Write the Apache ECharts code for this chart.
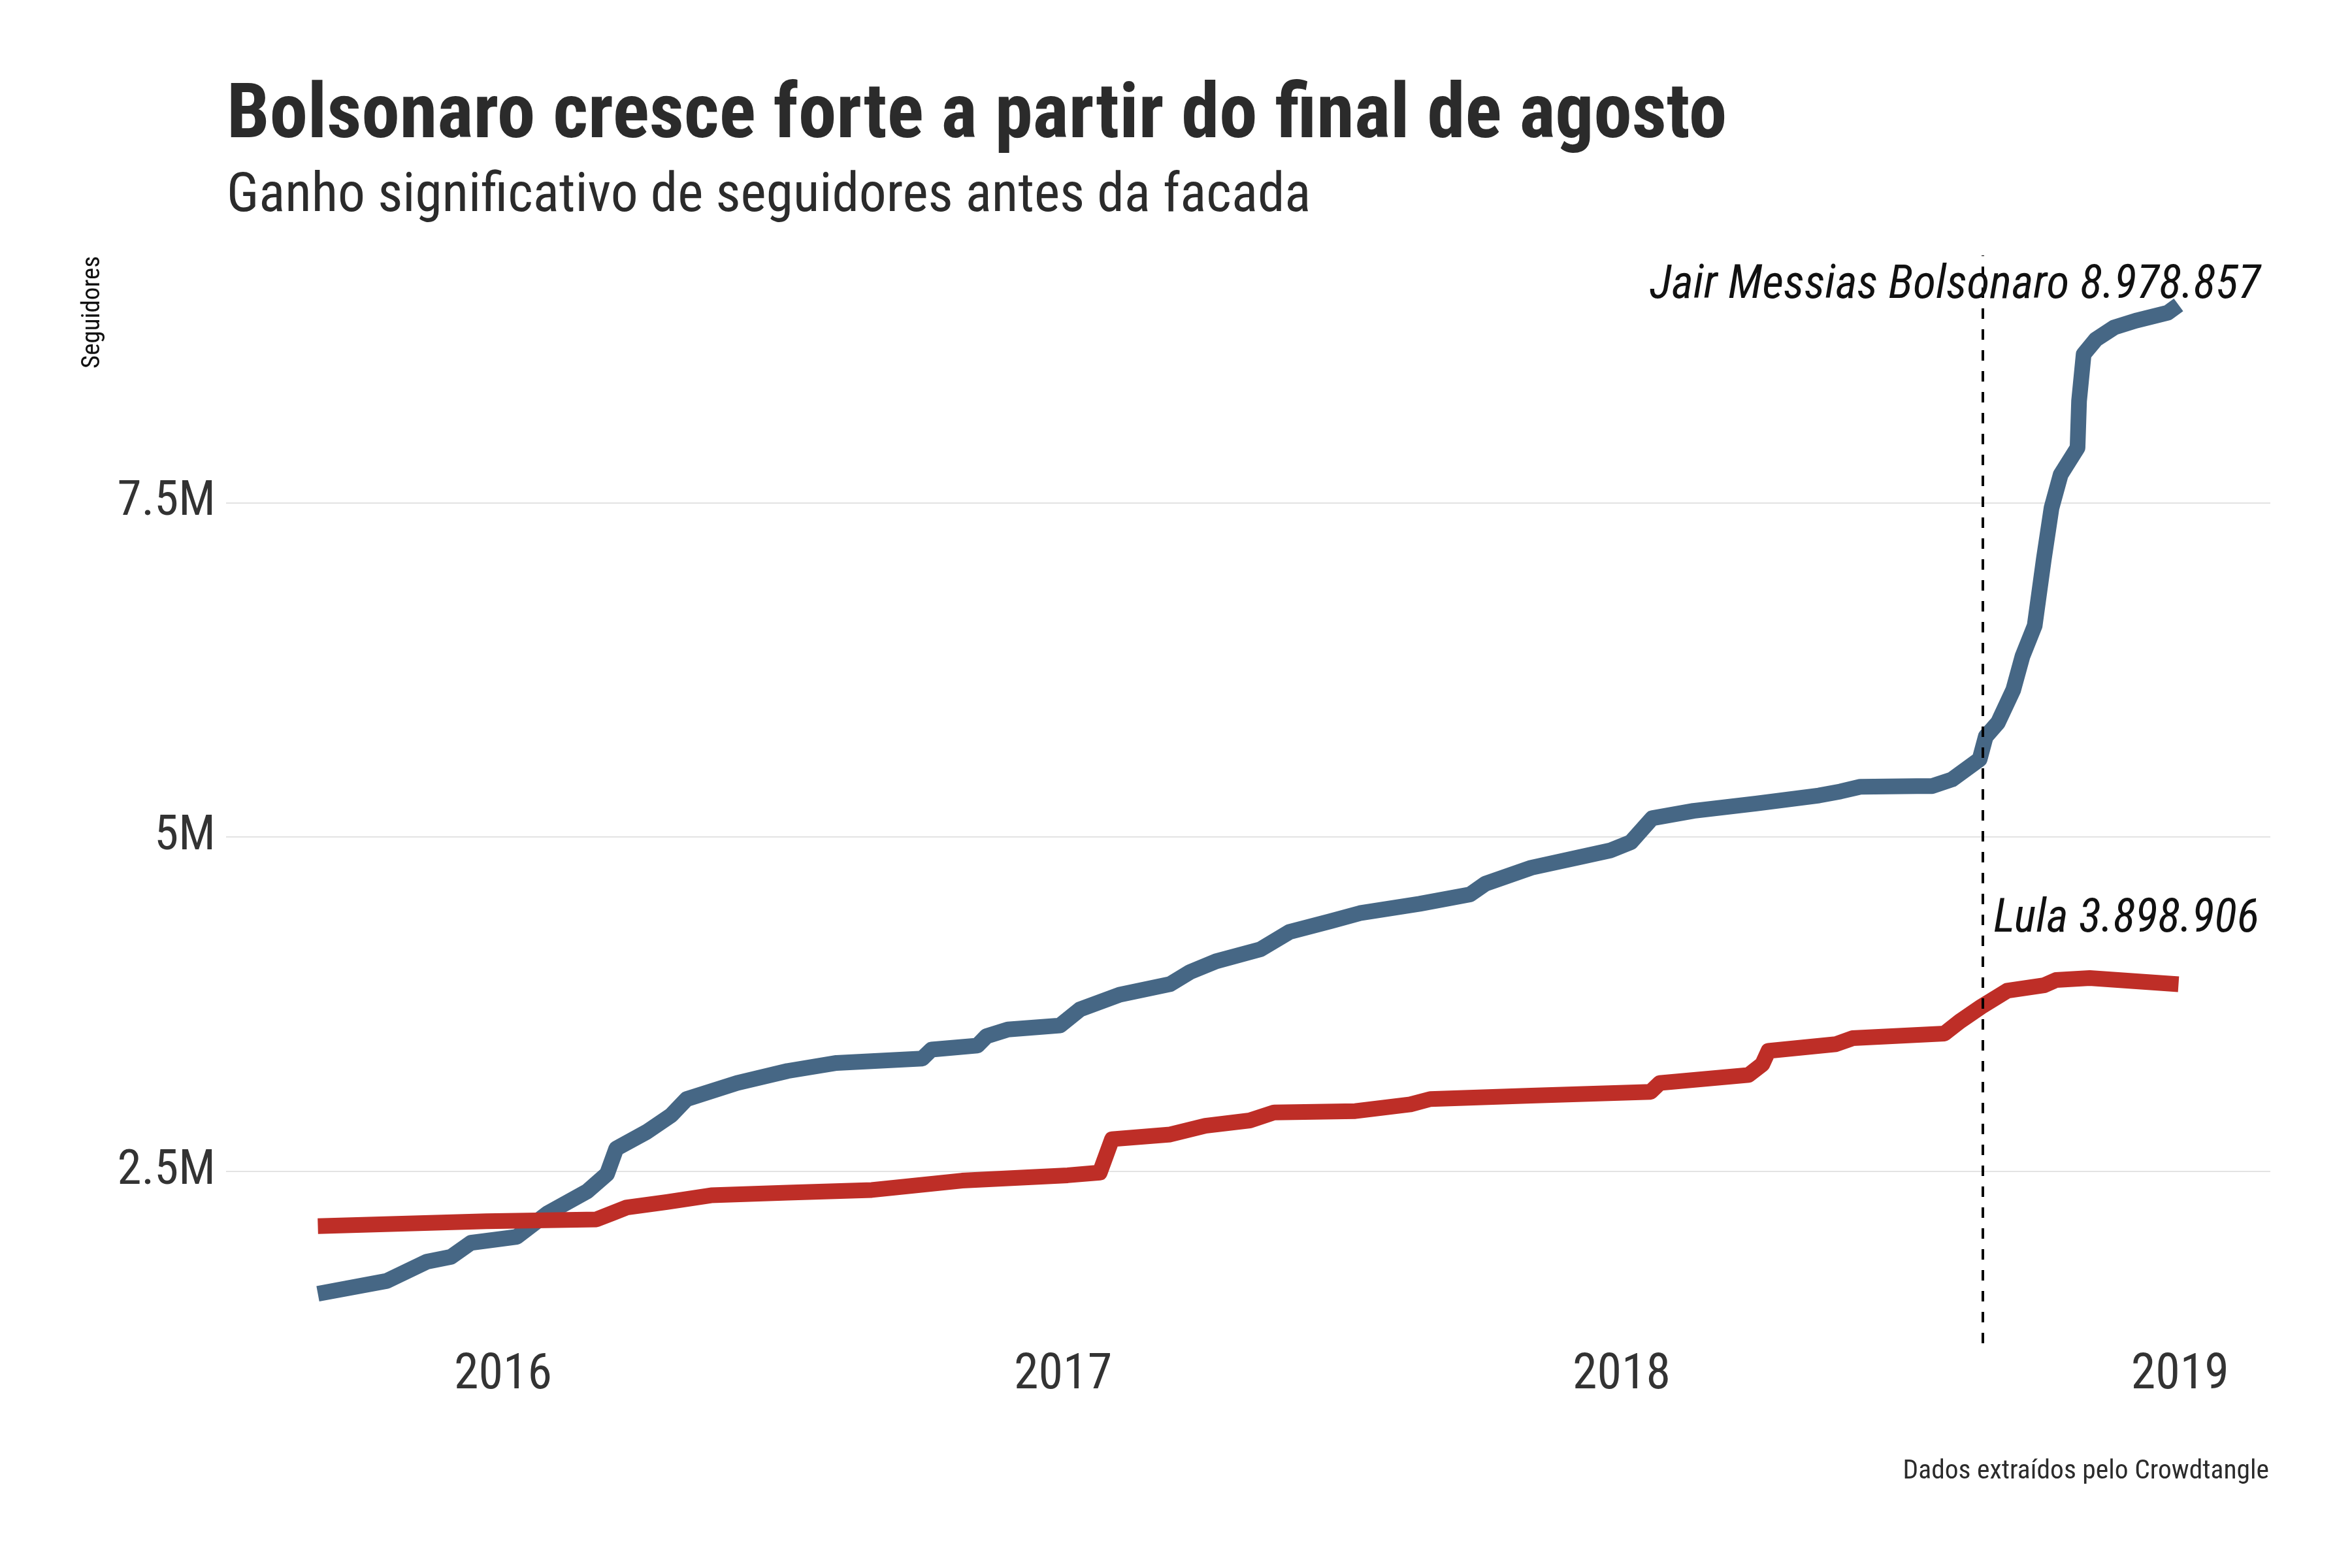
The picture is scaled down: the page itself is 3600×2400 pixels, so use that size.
<!DOCTYPE html>
<html>
<head>
<meta charset="utf-8">
<script src="https://cdn.jsdelivr.net/npm/echarts@6/dist/echarts.min.js"></script>
<style>html,body{margin:0;padding:0;background:#fff}#c{width:3600px;height:2400px}</style>
</head>
<body>
<div id="c"></div>
<script>
// ---- data (followers, millions) ----
const bolsonaroDates = ['2015-09-02','2015-10-17','2015-11-12','2015-11-28','2015-12-11','2016-01-10','2016-01-30','2016-02-25','2016-03-09','2016-03-15','2016-04-04','2016-04-20','2016-04-30','2016-06-02','2016-07-05','2016-08-06','2016-10-01','2016-10-07','2016-11-06','2016-11-12','2016-11-26','2016-12-30','2017-01-12','2017-02-07','2017-03-12','2017-03-25','2017-04-11','2017-05-10','2017-05-29','2017-06-25','2017-07-14','2017-08-22','2017-09-24','2017-10-04','2017-11-03','2017-12-05','2017-12-25','2018-01-07','2018-01-21','2018-02-17','2018-03-30','2018-05-10','2018-05-24','2018-06-06','2018-07-13','2018-07-23','2018-08-05','2018-08-11','2018-08-23','2018-08-27','2018-09-04','2018-09-14','2018-09-20','2018-09-28','2018-10-04','2018-10-09','2018-10-15','2018-10-26','2018-10-27','2018-10-30','2018-11-07','2018-11-19','2018-12-03','2018-12-24','2018-12-31'];
const bolsonaroValues = [1.584,1.68,1.823,1.86,1.965,2.01,2.185,2.35,2.48,2.67,2.795,2.92,3.04,3.16,3.25,3.31,3.343,3.41,3.44,3.51,3.56,3.59,3.71,3.82,3.90,3.99,4.07,4.16,4.29,4.37,4.43,4.50,4.57,4.65,4.77,4.85,4.90,4.96,5.14,5.195,5.25,5.31,5.34,5.375,5.38,5.38,5.43,5.48,5.58,5.75,5.855,6.10,6.35,6.58,7.08,7.46,7.71,7.91,8.26,8.61,8.72,8.81,8.86,8.92,8.978857];
const lulaDates = ['2015-09-02','2015-12-21','2016-03-02','2016-03-12','2016-03-22','2016-04-17','2016-05-16','2016-07-05','2016-08-29','2016-10-27','2017-01-04','2017-01-25','2017-02-02','2017-03-12','2017-04-04','2017-05-03','2017-05-19','2017-07-11','2017-08-16','2017-08-29','2017-11-03','2018-01-20','2018-01-26','2018-03-25','2018-04-03','2018-04-07','2018-05-21','2018-06-01','2018-07-31','2018-08-10','2018-08-24','2018-09-10','2018-10-04','2018-10-12','2018-11-03','2018-12-31'];
const lulaValues = [2.09,2.126,2.14,2.185,2.23,2.27,2.32,2.34,2.36,2.43,2.47,2.49,2.74,2.775,2.84,2.88,2.94,2.95,3.00,3.04,3.065,3.094,3.16,3.22,3.30,3.40,3.45,3.495,3.53,3.62,3.73,3.85,3.89,3.93,3.945,3.898906];
const yTicks = [2.5, 5, 7.5];
const xTickYears = [2016, 2017, 2018, 2019];
const markerDate = '2018-08-25';
const titleText = 'Bolsonaro cresce forte a partir do final de agosto';
const subtitleText = 'Ganho significativo de seguidores antes da facada';
const captionText = 'Dados extraídos pelo Crowdtangle';
const yAxisTitle = 'Seguidores';
const bolsonaroLabel = 'Jair Messias Bolsonaro 8.978.857';
const lulaLabel = 'Lula 3.898.906';

const FONT = "'Roboto Condensed', 'Liberation Sans Narrow', 'Arial Narrow', 'DejaVu Sans Condensed', Roboto, sans-serif";
function ts(s){ const p = s.split('-').map(Number); return Date.UTC(p[0], p[1]-1, p[2]); }
const xTickValues = xTickYears.map(y => Date.UTC(y,0,1));

const chart = echarts.init(document.getElementById('c'), null, {renderer:'canvas'});
chart.setOption({
  animation: false,
  backgroundColor: '#ffffff',
  grid: {left: 346, right: 125, top: 391, bottom: 344, containLabel: false},
  xAxis: {
    type: 'value',
    min: ts('2015-07-04'), max: ts('2019-03-01'),
    axisLine: {show:false}, axisTick: {show:false, customValues: xTickValues},
    splitLine: {show:false},
    axisLabel: {
      customValues: xTickValues,
      formatter: v => String(new Date(v).getUTCFullYear()),
      fontFamily: FONT, fontSize: 76, color: '#333333', margin: 12
    }
  },
  yAxis: {
    type: 'value', min: 1.214, max: 9.348,
    axisLine: {show:false}, axisTick: {show:false, customValues: yTicks},
    splitLine: {show:true, lineStyle: {color:'#dadada', width:1.5}},
    axisLabel: {
      customValues: yTicks,
      formatter: v => v + 'M',
      fontFamily: FONT, fontSize: 75, color: '#333333', margin: 16
    }
  },
  series: [
    {
      name: 'Bolsonaro', type: 'line', showSymbol: false, z: 2,
      data: bolsonaroDates.map((d,i) => [ts(d), bolsonaroValues[i]]),
      lineStyle: {color:'#466785', width:24, cap:'butt', join:'round'}
    },
    {
      name: 'Lula', type: 'line', showSymbol: false, z: 3,
      data: lulaDates.map((d,i) => [ts(d), lulaValues[i]]),
      lineStyle: {color:'#be2e27', width:24, cap:'butt', join:'round'}
    },
    {
      name: 'marker', type: 'line', data: [], z: 5,
      markLine: {
        silent: true, symbol: ['none','none'], label: {show:false},
        lineStyle: {color:'#000000', width:4, type:[16,16]},
        data: [{xAxis: ts(markerDate)}]
      }
    }
  ],
  graphic: [
    {type:'text', x:347, y:181, style:{text:titleText, fontFamily:FONT, fontSize:117, fontWeight:'bold', fill:'#2b2b2b', align:'left', verticalAlign:'middle'}},
    {type:'text', x:347, y:302, style:{text:subtitleText, fontFamily:FONT, fontSize:83.5, fill:'#2b2b2b', align:'left', verticalAlign:'middle'}},
    {type:'text', x:142, y:392, rotation:Math.PI/2, style:{text:yAxisTitle, fontFamily:FONT, fontSize:39, fill:'#111111', align:'right', verticalAlign:'middle'}},
    {type:'text', x:3460, y:438, style:{text:bolsonaroLabel, fontFamily:FONT, fontSize:71.5, fontStyle:'italic', fill:'#111111', align:'right', verticalAlign:'middle'}, z:10},
    {type:'text', x:3458, y:1408, style:{text:lulaLabel, fontFamily:FONT, fontSize:71.5, fontStyle:'italic', fill:'#111111', align:'right', verticalAlign:'middle'}, z:10},
    {type:'text', x:3473, y:2253, style:{text:captionText, fontFamily:FONT, fontSize:41.5, fill:'#2b2b2b', align:'right', verticalAlign:'middle'}}
  ]
});
</script>
</body>
</html>
